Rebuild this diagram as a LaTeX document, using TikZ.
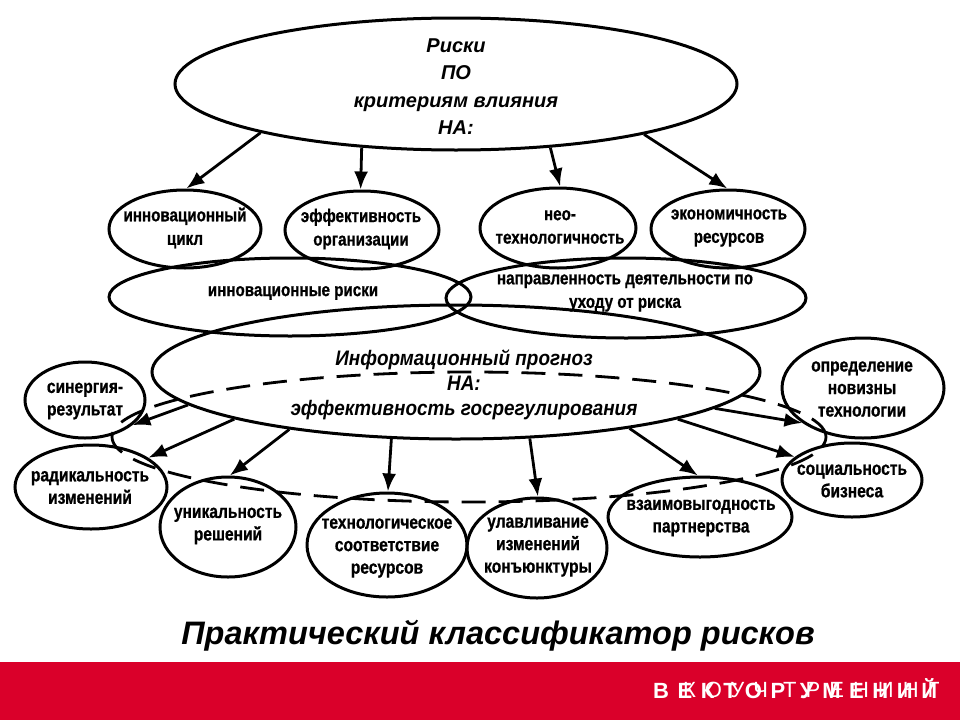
\documentclass[tikz,border=0pt]{standalone}
\usepackage{fontspec}
\setmainfont{Liberation Sans}
\newfontfamily\nb{Liberation Sans}[FakeStretch=0.82,FakeBold=0.8]
\newfontfamily\ls{Liberation Sans}
\newfontfamily\nbi{Liberation Sans}[FakeStretch=0.9]
\newfontfamily\lsp{Liberation Sans}[LetterSpace=39]
\newfontfamily\lspt{Liberation Sans}[LetterSpace=41]
\usetikzlibrary{shapes.geometric,arrows.meta}
\definecolor{bandred}{RGB}{218,0,42}
\begin{document}
\begin{tikzpicture}[x=1pt,y=-1pt,
  ell/.style={draw, ellipse, line width=3pt, inner sep=0pt},
  dsh/.style={draw, ellipse, line width=2.8pt, dash pattern=on 24pt off 13pt, inner sep=0pt},
  lab/.style={align=center, inner sep=0pt, font=\nb\bfseries\fontsize{19}{22.5}\selectfont},
  labt/.style={align=center, inner sep=0pt, font=\nb\bfseries\fontsize{18.5}{23.5}\selectfont},
  head/.style={align=center, inner sep=0pt, font=\ls\bfseries\itshape\fontsize{20}{27.5}\selectfont},
  arr/.style={line width=2.8pt, -{Latex[length=18pt,width=14pt]}}]
\fill[white] (0,0) rectangle (960,720);
\useasboundingbox (0,0) rectangle (960,720);
% top
\node[ell, minimum width=562pt, minimum height=132pt] (top) at (456,84) {};
\node[head] (toptxt) at (456,86.5) {Риски\\ПО\\критериям влияния\\НА:};
% level 2
\node[ell, minimum width=152pt, minimum height=78pt] (n1) at (185,229) {};
\node[ell, minimum width=154pt, minimum height=78pt] (n2) at (362,230) {};
\node[ell, minimum width=156pt, minimum height=80pt] (n3) at (558,228) {};
\node[ell, minimum width=154pt, minimum height=78pt] (n4) at (728,229) {};
\node[labt] (t1) at (185,228) {инновационный\\цикл};
\node[labt] (t2) at (361,229) {эффективность\\организации};
\node[labt] (t3) at (560,227) {нео-\\технологичность};
\node[labt] (t4) at (729,228) {экономичность\\ресурсов};
% level 3
\node[ell, minimum width=362pt, minimum height=78pt] (r1) at (290,297) {};
\node[ell, minimum width=360pt, minimum height=80pt] (r2) at (626,298) {};
\node[labt] (tr1) at (293,293) {инновационные риски};
\node[labt] (tr2) at (625,293) {направленность деятельности по\\уходу от риска};
% info
\node[ell, minimum width=608pt, minimum height=134pt] (info) at (456,372) {};
\node[dsh, minimum width=714pt, minimum height=130pt] (dash) at (469,437) {};
\node[align=center, inner sep=0pt, font=\nbi\bfseries\itshape\fontsize{21}{25}\selectfont] (infotxt) at (464,385) {Информационный прогноз\\НА:\\эффективность госрегулирования};
% level 5
\node[ell, minimum width=120pt, minimum height=76pt] (syn) at (85,400) {};
\node[ell, minimum width=152pt, minimum height=84pt] (rad) at (91,487) {};
\node[ell, minimum width=136pt, minimum height=100pt] (uni) at (228,527) {};
\node[ell, minimum width=160pt, minimum height=104pt] (tech) at (387,545) {};
\node[ell, minimum width=140pt, minimum height=100pt] (ulav) at (537,548) {};
\node[ell, minimum width=184pt, minimum height=80pt] (vz) at (700,517) {};
\node[ell, minimum width=140pt, minimum height=74pt] (soc) at (852,480) {};
\node[ell, minimum width=162pt, minimum height=100pt] (opr) at (863,388) {};
\node[lab] (tsyn) at (85,401) {синергия-\\результат};
\node[lab] (trad) at (90,487.5) {радикальность\\изменений};
\node[lab] (tuni) at (228,526) {уникальность\\решений};
\node[lab] (ttech) at (387,548) {технологическое\\соответствие\\ресурсов};
\node[lab] (tulav) at (538,547) {улавливание\\изменений\\конъюнктуры};
\node[lab] (tvz) at (701,518) {взаимовыгодность\\партнерства};
\node[lab] (tsoc) at (852,481) {социальность\\бизнеса};
\node[lab] (topr) at (862,389) {определение\\новизны\\технологии};
% arrows top
\draw[arr] (top.194.4) -- (n1.88);
\draw[arr] (top.214.5) -- (n2.92);
\draw[arr] (top.326.3) -- (n3.87);
\draw[arr] (top.345.6) -- (n4.91);
% arrows info
\draw[arr] (info.187.6) -- (syn.332.5);
\draw[arr] (info.192.4) -- (rad.27);
\draw[arr] (info.199.3) -- (uni.88);
\draw[arr] (info.226) -- (tech.89);
\draw[arr] (info.318.7) -- (ulav.89);
\draw[arr] (info.342.7) -- (vz.93);
\draw[arr] (info.348.2) -- (soc.158);
\draw[arr] (info.352.4) -- (opr.210.3);
% caption
\node[inner sep=0pt, font=\ls\bfseries\itshape\fontsize{32.5}{36}\selectfont] (cap) at (498,636) {Практический классификатор рисков};
% footer
\fill[bandred] (0,662) rectangle (960,720);
\node[anchor=base west, inner sep=0pt, text=white, font=\lspt\fontsize{22}{22}\selectfont] (ft2) at (683,697) {КОУЧ ТРЕНИНГ};
\node[anchor=base west, inner sep=0pt, text=white, font=\lsp\bfseries\fontsize{22}{22}\selectfont] (ft1) at (653,698) {ВЕКТОР УМЕНИЙ};
\end{tikzpicture}
\end{document}
